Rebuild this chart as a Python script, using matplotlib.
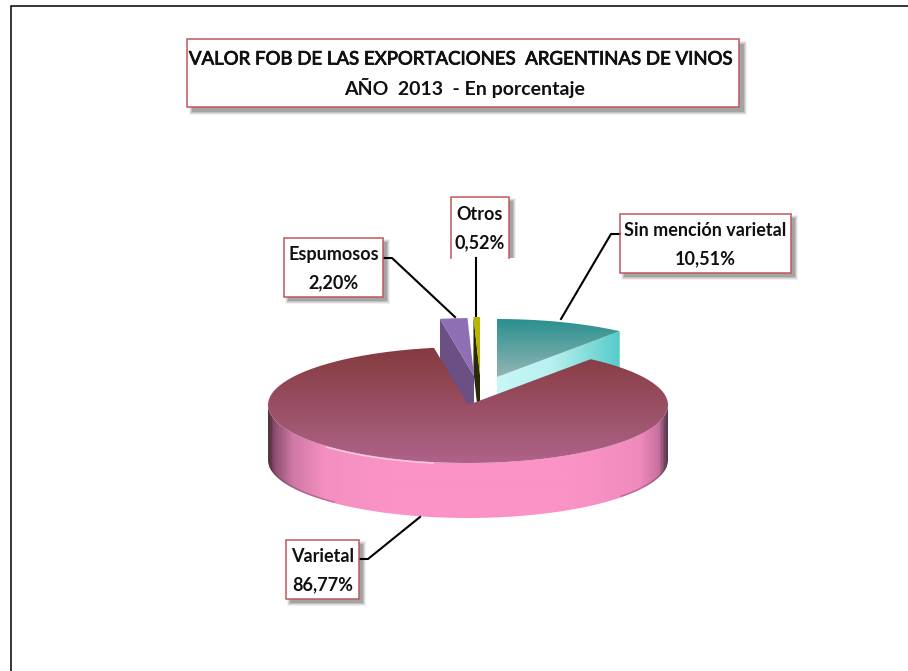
import numpy as np
import matplotlib
matplotlib.use("Agg")
import matplotlib.pyplot as plt
import matplotlib.patheffects as pe
from matplotlib.colors import LinearSegmentedColormap
from matplotlib.patches import PathPatch, Rectangle
from matplotlib.path import Path

# data
categories = ["Sin mención varietal", "Varietal", "Espumosos", "Otros"]
values = [10.51, 86.77, 2.20, 0.52]
value_labels = ["10,51%", "86,77%", "2,20%", "0,52%"]
title_lines = ["VALOR FOB DE LAS EXPORTACIONES  ARGENTINAS DE VINOS", "AÑO  2013  - En porcentaje"]

W, H = 908, 671
RX, RY, DEPTH = 200, 58, 55
centers = [(497, 377), (468, 405), (474, 376), (480, 375)]
boxes = [(620, 214, 791, 273), (286, 540, 359, 599), (284, 238, 383, 297), (451, 197, 509, 258)]
leaders = [[(620, 234), (611, 234), (561, 319)],
           [(360, 559), (368, 559), (420, 517)],
           [(384, 258), (392, 258), (455, 317)],
           [(476, 258), (476, 316)]]
top_stops = [["#29908e", "#93b6b5"], ["#843a3d", "#ae6389"], ["#8f6fb5", "#8f6fb5"], ["#b8b400", "#b8b400"]]
RED = "#c0565a"

fig = plt.figure(figsize=(W / 100, H / 100), dpi=100, facecolor="white")
ax = fig.add_axes([0, 0, 1, 1])
ax.axis("off")

def arc(c, t0, t1, dz=0, n=240):
    t = np.radians(np.linspace(t0, t1, n))
    return np.column_stack([c[0] + RX * np.sin(t), c[1] - RY * np.cos(t) + dz])

def poly(pts):
    pts = np.asarray(pts)
    return Path(np.vstack([pts, pts[:1]]))

def fill_grad(path, stops, horizontal, z, positions=None):
    v = path.vertices
    x0, x1 = v[:, 0].min(), v[:, 0].max()
    y0, y1 = v[:, 1].min(), v[:, 1].max()
    if positions is not None:
        stops = list(zip(positions, stops))
    cmap = LinearSegmentedColormap.from_list("g", stops)
    g = np.linspace(0, 1, 400)
    g = g[None, :] if horizontal else g[:, None]
    im = ax.imshow(g, extent=(x0, x1, y1, y0), cmap=cmap, vmin=0, vmax=1, aspect="auto",
                   origin="upper", interpolation="bilinear", zorder=z)
    im.set_clip_path(PathPatch(path, transform=ax.transData))

# slice angles, clockwise from 12 o'clock, from the values
edges = np.concatenate([[0], np.cumsum(values)]) / sum(values) * 360

def face_quad(c, t):
    e = arc(c, t, t, n=1)[0]
    return [tuple(c), tuple(e), (e[0], e[1] + DEPTH), (c[0], c[1] + DEPTH)]

# Sin mención varietal: cut face then top
c = centers[0]
fill_grad(poly(face_quad(c, edges[1])), ["#c8f7f7", "#b8f0f0", "#54ccc9"], True, 2, [0, .45, 1])
# Espumosos
c = centers[2]
ax.add_patch(PathPatch(poly(face_quad(c, edges[2])), fc="#6b5084", ec="none", zorder=3))
# Otros
c = centers[3]
ax.add_patch(PathPatch(poly(face_quad(c, edges[3])), fc="#2b2a08", ec="none", zorder=3.2))

for i in [0, 2, 3]:
    c = centers[i]
    pts = np.vstack([[c], arc(c, edges[i], edges[i + 1])])
    fill_grad(poly(pts), top_stops[i], False, 4 + i * 0.1)

# Varietal: wall and top
c = centers[1]
front = arc(c, 90, 270)
wall = np.vstack([front, arc(c, 270, 90, DEPTH)])
fill_grad(poly(wall), ["#54303f", "#8f4f72", "#cf7aa6", "#f48fc1", "#fb93c7", "#fb93c7", "#f18bbd", "#c8709f", "#5b3a4e"],
          True, 5, [0, .015, .06, .14, .3, .75, .93, .98, 1])
# darker lower-left and lower-right rim
for t in [(222, 262), (98, 130)]:
    ax.plot(*arc(c, t[0], t[1], DEPTH - 1).T, color="#4a3040", lw=1.0, alpha=.35, zorder=5.5)
top = np.vstack([[c], arc(c, edges[1], edges[2])])
fill_grad(poly(top), top_stops[1], False, 6)
ax.plot(*arc(c, 190, 225, 1).T, color="#ffd9ea", lw=1.0, alpha=.8, zorder=6.5)

# frame, open at right and bottom
ax.plot([11, 11, W], [H, 6, 6], color="black", lw=1.1, zorder=1, solid_joinstyle="miter")

def box(b, z=8, shadow=(4, 4), open_bottom=False):
    x0, y0, x1, y1 = b
    for grow, a in zip([3, 2, 1, 0], [.08, .12, .16, .22]):
        ax.add_patch(Rectangle((x0 + shadow[0] - grow, y0 + shadow[1] - grow), x1 - x0 + 2 * grow, y1 - y0 + 2 * grow,
                               fc="#404040", ec="none", alpha=a, zorder=z))
    ax.add_patch(Rectangle((x0, y0), x1 - x0, y1 - y0, fc="white", ec="none", zorder=z + .1))
    if open_bottom:
        ax.plot([x0, x0, x1, x1], [y1, y0, y0, y1], color=RED, lw=1.1, zorder=z + .2)
        ax.add_patch(Rectangle((x0 - 2, y1), x1 - x0 + 10, 8, fc="white", ec="none", zorder=z + .15))
    else:
        ax.add_patch(Rectangle((x0, y0), x1 - x0, y1 - y0, fc="none", ec=RED, lw=1.1, zorder=z + .2))

for pts in leaders:
    ax.plot(*np.array(pts).T, color="black", lw=1.5, zorder=8.17)

FONT = "Lato"
INK = "#101010"
box((187, 39, 739, 107), shadow=(5, 5))
ax.text(461.5, 59, title_lines[0], ha="center", va="center", fontsize=13.4, family=FONT, weight="normal", color=INK, zorder=10,
        path_effects=[pe.withStroke(linewidth=0.6, foreground=INK)])
ax.text(465, 88, title_lines[1], ha="center", va="center", fontsize=14, family=FONT, weight="bold", color=INK, zorder=10)

for i, b in enumerate(boxes):
    box(b, open_bottom=(i == 3))
    xm = (b[0] + b[2]) / 2
    ym = (b[1] + b[3]) / 2
    ax.text(xm, ym - 13, categories[i], ha="center", va="center", fontsize=13, family=FONT, weight="bold", color=INK, zorder=10)
    ax.text(xm, ym + 15, value_labels[i], ha="center", va="center", fontsize=13, family=FONT, weight="bold", color=INK, zorder=10)

ax.set_xlim(0, W)
ax.set_ylim(H, 0)
fig.savefig("out.png", dpi=100, facecolor="white")
